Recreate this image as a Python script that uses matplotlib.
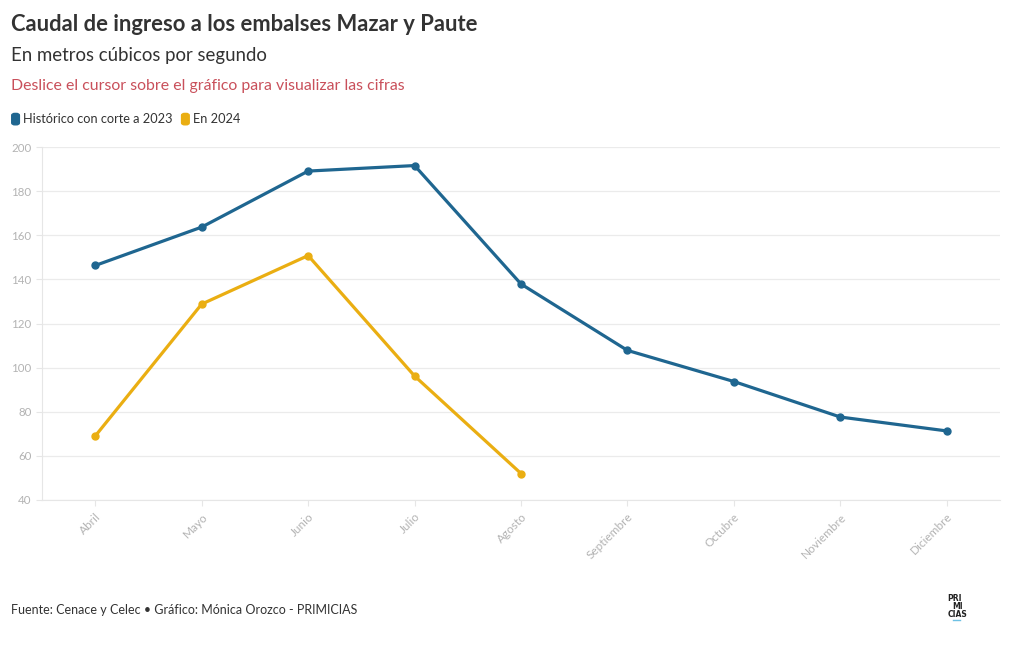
import matplotlib.pyplot as plt
from matplotlib.patches import FancyBboxPatch

plt.rcParams['font.family'] = ['Lato', 'DejaVu Sans']

meses = ['Abril', 'Mayo', 'Junio', 'Julio', 'Agosto', 'Septiembre',
         'Octubre', 'Noviembre', 'Diciembre']
historico = [146.3, 163.7, 189.1, 191.6, 137.9, 107.8, 93.7, 77.6, 71.3]
en_2024 = [69.0, 128.8, 150.8, 96.2, 52.0]
y_ticks = [40, 60, 80, 100, 120, 140, 160, 180, 200]

azul = '#1f6690'
amarillo = '#eaae12'
gris = '#b3b3b3'

fig = plt.figure(figsize=(10.2, 6.5), dpi=100)
ax = fig.add_axes([0.0412, 0.2308, 0.9392, 0.543])

x_hist = list(range(len(historico)))
x_2024 = list(range(len(en_2024)))
ax.plot(x_hist, historico, color=azul, lw=2.3, marker='o', ms=5, zorder=3)
ax.plot(x_2024, en_2024, color=amarillo, lw=2.3, marker='o', ms=5, zorder=3)

ax.set_xlim(-0.5, len(meses) - 0.5)
ax.set_ylim(40, 200)
ax.set_yticks(y_ticks)
ax.set_xticks(x_hist)
ax.set_xticklabels(meses, rotation=45, ha='right', rotation_mode='anchor')
ax.grid(axis='y', color='#ebebeb', lw=0.9)
ax.set_axisbelow(True)
for s in ['top', 'right']:
    ax.spines[s].set_visible(False)
for s in ['left', 'bottom']:
    ax.spines[s].set_color('#e6e6e6')
ax.tick_params(axis='y', length=4, color='#e6e6e6', labelcolor=gris, labelsize=8.3)
ax.tick_params(axis='x', length=4, color='#e6e6e6', labelcolor=gris, labelsize=8.5, pad=4)

fig.text(0.011, 0.962, 'Caudal de ingreso a los embalses Mazar y Paute', fontsize=15.8,
         fontweight='bold', color='#333333', va='center')
fig.text(0.011, 0.915, 'En metros cúbicos por segundo', fontsize=13.4, color='#333333', va='center')
fig.text(0.011, 0.868, 'Deslice el cursor sobre el gráfico para visualizar las cifras',
         fontsize=11.4, color='#c9505b', va='center')

# leyenda
for x0, col, txt in [(0.0115, azul, 'Histórico con corte a 2023'),
                     (0.178, amarillo, 'En 2024')]:
    fig.patches.append(FancyBboxPatch((x0, 0.808), 0.0075, 0.0175,
                                      boxstyle='round,pad=0,rounding_size=0.003',
                                      transform=fig.transFigure, color=col))
    fig.text(x0 + 0.0115, 0.817, txt, fontsize=9.2, color='#333333', va='center')

fig.text(0.011, 0.062, 'Fuente: Cenace y Celec • Gráfico: Mónica Orozco - PRIMICIAS',
         fontsize=9, color='#333333', va='center')

# logo
for i, t in enumerate(['PRI', 'MI', 'CIAS']):
    fig.text(0.929 + (0.005 if t == 'MI' else 0), 0.079 - i * 0.012, t, fontsize=5.5,
             fontweight='bold', color='#222222', va='center', family=['DejaVu Sans'])
fig.lines.append(plt.Line2D([0.934, 0.941], [0.046, 0.046], transform=fig.transFigure,
                            color='#6ec1e4', lw=1))

fig.savefig('out.png', dpi=100)
